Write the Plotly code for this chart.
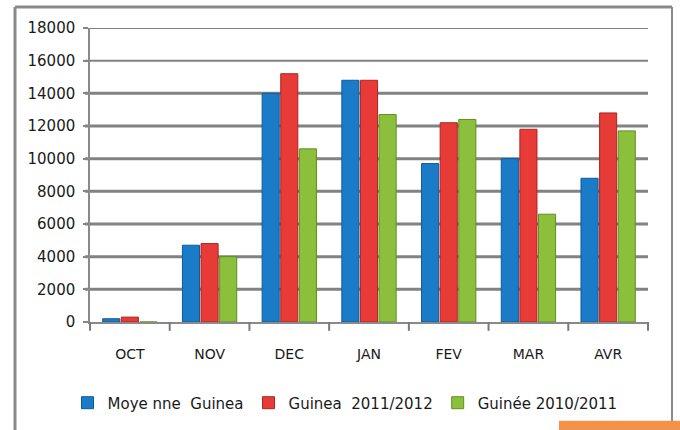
import plotly.graph_objects as go

months = ["OCT", "NOV", "DEC", "JAN", "FEV", "MAR", "AVR"]
moyenne_guinea = [200, 4700, 14000, 14800, 9700, 10000, 8800]
guinea_2011_2012 = [300, 4800, 15200, 14800, 12200, 11800, 12800]
guinee_2010_2011 = [0, 4000, 10600, 12700, 12400, 6600, 11700]
y_ticks = [0, 2000, 4000, 6000, 8000, 10000, 12000, 14000, 16000, 18000]
y_tick_text = ["0", "2000", "4000", "6000", "8000", "10000", "12000", "14000", "16000", "18000"]

series = [
    ("Moye nne  Guinea", moyenne_guinea, "#1a7cc9", "#0f5a9a"),
    ("Guinea  2011/2012", guinea_2011_2012, "#e63b36", "#b02420"),
    ("Guinée 2010/2011", guinee_2010_2011, "#8cbf3c", "#5f8f22"),
]

fig = go.Figure()
for name, vals, col, edge in series:
    fig.add_trace(go.Bar(
        x=months, y=vals, name=name,
        marker=dict(color=col, line=dict(color=edge, width=1)),
    ))

shapes = []
for v in y_ticks[1:]:
    w = 2 if v >= 16000 else 3
    shapes.append(dict(type="line", xref="paper", yref="y", x0=-0.009, x1=1, y0=v, y1=v,
                       line=dict(color="#828282", width=w), layer="below"))
# category boundary tick marks on the x axis
n = len(months)
for i in range(n + 1):
    shapes.append(dict(type="line", xref="paper", yref="paper", x0=i / n, x1=i / n, y0=0, y1=-0.03,
                       line=dict(color="#7a7a7a", width=2)))
# outer frame
shapes.append(dict(type="line", xref="paper", yref="paper", x0=-0.1344, x1=-0.1344, y0=-0.40, y1=1.0712,
                   line=dict(color="#8a8a8a", width=3)))
shapes.append(dict(type="line", xref="paper", yref="paper", x0=-0.1344, x1=1.043, y0=1.0712, y1=1.0712,
                   line=dict(color="#8a8a8a", width=3)))
shapes.append(dict(type="line", xref="paper", yref="paper", x0=1.043, x1=1.043, y0=-0.40, y1=1.0712,
                   line=dict(color="#8a8a8a", width=2)))
shapes.append(dict(type="rect", xref="paper", yref="paper", x0=0.8405, x1=1.1, y0=-0.3356, y1=-0.40,
                   line=dict(width=0), fillcolor="#f5924a"))

fig.update_layout(
    width=680, height=430,
    margin=dict(l=90, r=32, t=28, b=107),
    paper_bgcolor="white", plot_bgcolor="white",
    barmode="group", bargap=0.3, bargroupgap=0.08,
    font=dict(family="DejaVu Sans, sans-serif", size=14, color="#1a1a1a"),
    shapes=shapes,
    showlegend=True,
    legend=dict(orientation="h", x=0.457, xanchor="center", y=-0.271, yanchor="middle",
                font=dict(size=15, color="#1a1a1a"), itemwidth=30, tracegroupgap=0),
    xaxis=dict(showline=True, linecolor="#8a8a8a", linewidth=2, ticks="",
               tickvals=months, ticktext=["\u00a0<br>" + m for m in months],
               tickfont=dict(size=14), showgrid=False),
    yaxis=dict(range=[0, 18000], tickvals=y_ticks, ticktext=[t + "\u00a0" for t in y_tick_text],
               showgrid=False, showline=True, linecolor="#8a8a8a", linewidth=2,
               ticks="outside", ticklen=5, tickwidth=2, tickcolor="#858585",
               tickfont=dict(size=15), zeroline=False),
)

fig.write_html("out.html", post_script="document.body.style.margin='0';",
               config={"displayModeBar": False})
